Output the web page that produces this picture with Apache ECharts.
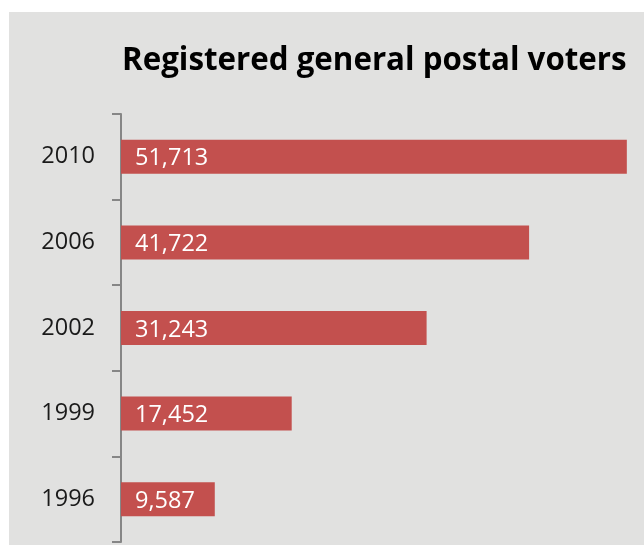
<!DOCTYPE html>
<html>
<head>
<meta charset="utf-8">
<script src="https://cdn.jsdelivr.net/npm/echarts@6/dist/echarts.min.js"></script>
<style>
  html, body { margin: 0; padding: 0; background: #ffffff; overflow: hidden; }
  #chart { position: absolute; left: 9px; top: 12px; width: 700px; height: 533px; background: #e1e1e0; }
</style>
</head>
<body>
<div id="chart"></div>
<script>
// Registered general postal voters by election year
const years = ['1996', '1999', '2002', '2006', '2010'];
const voters = [9587, 17452, 31243, 41722, 51713];
const titleText = 'Registered general postal voters';

const chart = echarts.init(document.getElementById('chart'), null, { renderer: 'canvas' });
const fmt = v => v.toLocaleString('en-US');

chart.setOption({
  backgroundColor: '#e1e1e0',
  animation: false,
  title: {
    text: titleText,
    left: 108,
    top: 29,
    textStyle: { fontFamily: 'Open Sans', fontWeight: 'bold', fontSize: 31.3, color: '#000000' }
  },
  grid: { left: 112, top: 102, width: 582, height: 428, containLabel: false },
  xAxis: {
    type: 'value',
    min: 0,
    max: 59500,
    show: false
  },
  yAxis: {
    type: 'category',
    data: years,
    axisLine: { show: true, lineStyle: { color: '#868686', width: 2 } },
    axisTick: { show: true, length: 9, lineStyle: { color: '#868686', width: 2 } },
    axisLabel: { fontFamily: 'Open Sans', fontSize: 23.5, color: '#1a1a1a', margin: 26, padding: [4, 0, 0, 0] },
    splitLine: { show: false }
  },
  series: [{
    type: 'bar',
    data: voters,
    barWidth: 34,
    itemStyle: { color: '#c3504e' },
    label: {
      show: true,
      position: 'insideLeft',
      distance: 14,
      offset: [0, 2],
      formatter: p => fmt(p.value),
      fontFamily: 'Open Sans',
      fontSize: 23.5,
      color: '#ffffff'
    }
  }]
});
</script>
</body>
</html>
